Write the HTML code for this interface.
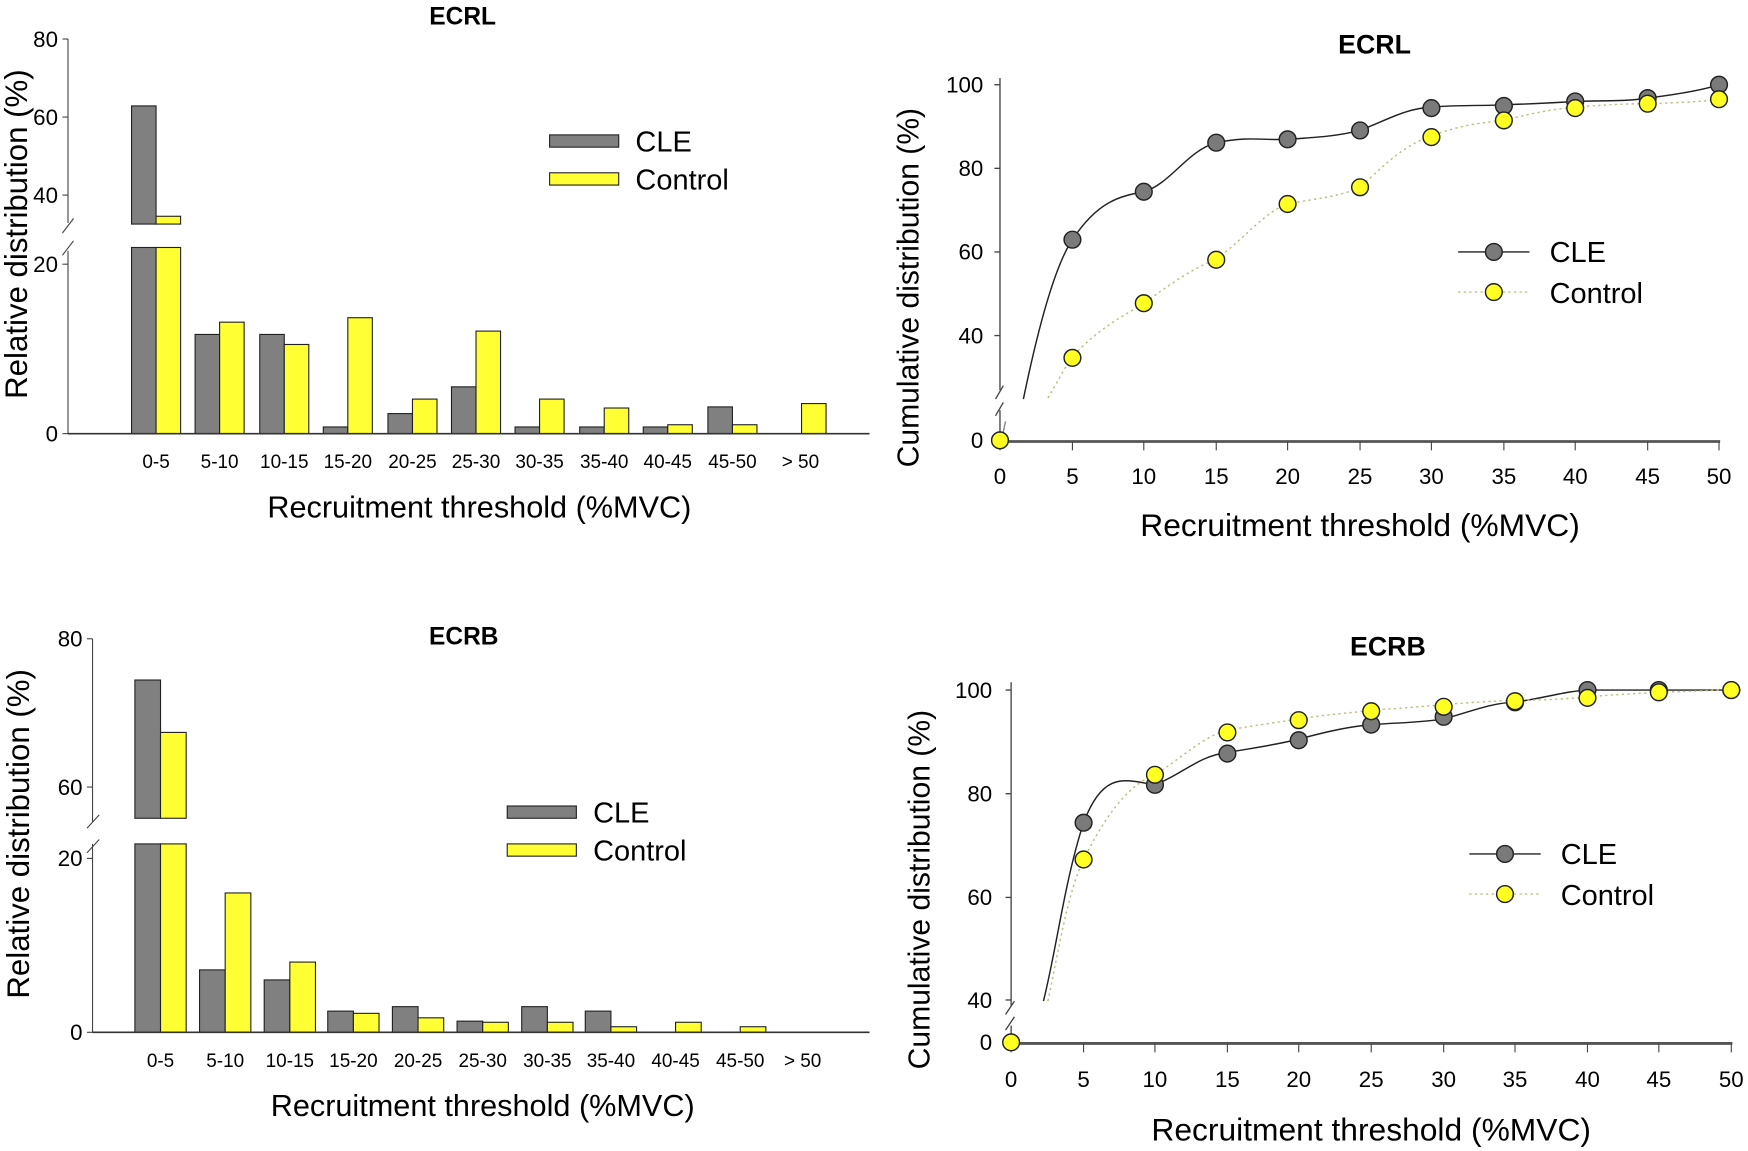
<!DOCTYPE html>
<html><head><meta charset="utf-8"><style>
body{margin:0;background:#fff}
svg{display:block;font-family:"Liberation Sans",Arial,sans-serif}
</style></head><body>
<svg width="1748" height="1151" viewBox="0 0 1748 1151" xmlns="http://www.w3.org/2000/svg">
<g transform="scale(1.11480)">
<!-- ===== Top-left ===== -->
<g stroke="#000" stroke-width="1">
<text x="415" y="22" font-size="22" font-weight="bold" text-anchor="middle" stroke="none">ECRL</text>
<line x1="61" y1="35" x2="61" y2="200" stroke="#444"/>
<line x1="61" y1="225" x2="61" y2="389" stroke="#444"/>
<line x1="56" y1="209" x2="66" y2="196" stroke="#444"/>
<line x1="56" y1="229" x2="66" y2="216" stroke="#444"/>
<g stroke="#444"><line x1="56" y1="35" x2="61" y2="35"/><line x1="56" y1="105" x2="61" y2="105"/><line x1="56" y1="175" x2="61" y2="175"/><line x1="56" y1="237" x2="61" y2="237"/><line x1="56" y1="389" x2="61" y2="389"/></g>
<g font-size="20" text-anchor="end" stroke="none"><text x="52" y="42">80</text><text x="52" y="112">60</text><text x="52" y="182">40</text><text x="52" y="244">20</text><text x="52" y="396">0</text></g>
<g stroke="#222">
<rect x="118" y="95" width="22" height="106" fill="#808080"/><rect x="118" y="222" width="22" height="167" fill="#808080"/>
<rect x="140" y="194" width="22" height="7" fill="#ffff33"/><rect x="140" y="222" width="22" height="167" fill="#ffff33"/>
<rect x="175" y="300" width="22" height="89" fill="#808080"/><rect x="197" y="289" width="22" height="100" fill="#ffff33"/>
<rect x="233" y="300" width="22" height="89" fill="#808080"/><rect x="255" y="309" width="22" height="80" fill="#ffff33"/>
<rect x="290" y="383" width="22" height="6" fill="#808080"/><rect x="312" y="285" width="22" height="104" fill="#ffff33"/>
<rect x="348" y="371" width="22" height="18" fill="#808080"/><rect x="370" y="358" width="22" height="31" fill="#ffff33"/>
<rect x="405" y="347" width="22" height="42" fill="#808080"/><rect x="427" y="297" width="22" height="92" fill="#ffff33"/>
<rect x="462" y="383" width="22" height="6" fill="#808080"/><rect x="484" y="358" width="22" height="31" fill="#ffff33"/>
<rect x="520" y="383" width="22" height="6" fill="#808080"/><rect x="542" y="366" width="22" height="23" fill="#ffff33"/>
<rect x="577" y="383" width="22" height="6" fill="#808080"/><rect x="599" y="381" width="22" height="8" fill="#ffff33"/>
<rect x="635" y="365" width="22" height="24" fill="#808080"/><rect x="657" y="381" width="22" height="8" fill="#ffff33"/>
<rect x="719" y="362" width="22" height="27" fill="#ffff33"/>
</g>
<line x1="61" y1="389" x2="780" y2="389" stroke="#333" stroke-width="1.5"/>
<g font-size="17" text-anchor="middle" stroke="none"><text x="140" y="420">0-5</text><text x="197" y="420">5-10</text><text x="255" y="420">10-15</text><text x="312" y="420">15-20</text><text x="370" y="420">20-25</text><text x="427" y="420">25-30</text><text x="484" y="420">30-35</text><text x="542" y="420">35-40</text><text x="599" y="420">40-45</text><text x="657" y="420">45-50</text><text x="718" y="420">&gt; 50</text></g>
<text x="430" y="464" font-size="27.5" text-anchor="middle" stroke="none">Recruitment threshold (%MVC)</text>
<text transform="translate(24,210) rotate(-90)" font-size="28" text-anchor="middle" stroke="none">Relative distribution (%)</text>
<rect x="493" y="121" width="62" height="11" fill="#808080" stroke="#222"/>
<rect x="493" y="155" width="62" height="11" fill="#ffff33" stroke="#222"/>
<g font-size="26" stroke="none"><text x="570" y="136">CLE</text><text x="570" y="170">Control</text></g>
</g>

<!-- ===== Top-right ===== -->
<g>
<text x="1233" y="48" font-size="24" font-weight="bold" text-anchor="middle">ECRL</text>
<g stroke="#444" stroke-width="1.2">
<line x1="897" y1="70" x2="897" y2="350"/><line x1="897" y1="368" x2="897" y2="395"/>
<line x1="893" y1="358" x2="900" y2="346"/><line x1="893" y1="373" x2="900" y2="361"/>
<line x1="892" y1="76" x2="897" y2="76"/><line x1="892" y1="151" x2="897" y2="151"/><line x1="892" y1="226" x2="897" y2="226"/><line x1="892" y1="301" x2="897" y2="301"/><line x1="892" y1="395" x2="897" y2="395"/>
</g>
<line x1="897" y1="396" x2="1543" y2="396" stroke="#555" stroke-width="2.5"/>
<g stroke="#444"><line x1="897" y1="396" x2="897" y2="404"/><line x1="962" y1="396" x2="962" y2="404"/><line x1="1026" y1="396" x2="1026" y2="404"/><line x1="1091" y1="396" x2="1091" y2="404"/><line x1="1155" y1="396" x2="1155" y2="404"/><line x1="1220" y1="396" x2="1220" y2="404"/><line x1="1284" y1="396" x2="1284" y2="404"/><line x1="1349" y1="396" x2="1349" y2="404"/><line x1="1413" y1="396" x2="1413" y2="404"/><line x1="1478" y1="396" x2="1478" y2="404"/><line x1="1542" y1="396" x2="1542" y2="404"/></g>
<g font-size="20" text-anchor="end"><text x="882" y="83">100</text><text x="882" y="158">80</text><text x="882" y="233">60</text><text x="882" y="308">40</text><text x="882" y="402">0</text></g>
<g font-size="20" text-anchor="middle"><text x="897" y="434">0</text><text x="962" y="434">5</text><text x="1026" y="434">10</text><text x="1091" y="434">15</text><text x="1155" y="434">20</text><text x="1220" y="434">25</text><text x="1284" y="434">30</text><text x="1349" y="434">35</text><text x="1413" y="434">40</text><text x="1478" y="434">45</text><text x="1542" y="434">50</text></g>
<text x="1220" y="481" font-size="28.5" text-anchor="middle">Recruitment threshold (%MVC)</text>
<text transform="translate(824,258) rotate(-90)" font-size="27" text-anchor="middle">Cumulative distribution (%)</text>
<path d="M918,358 C930,300 945,240 962,215 C985,180 1005,176 1026,172 C1050,165 1065,135 1091,128 C1120,122 1130,126 1155,125 C1180,123 1195,123 1220,117 C1250,105 1260,98 1284,96 C1310,94 1330,95 1349,94 C1380,93 1395,92 1413,91 C1440,90 1460,91 1478,88 C1510,84 1530,80 1542,76" fill="none" stroke="#222" stroke-width="1.3"/>
<line x1="899" y1="392" x2="902" y2="378" stroke="#888" stroke-width="1.3"/>
<path d="M940,357 C950,340 955,330 962,320 C985,295 1005,285 1026,272 C1050,255 1070,240 1091,233 C1120,210 1135,190 1155,183 C1180,178 1200,177 1220,168 C1245,145 1260,130 1284,122 C1310,112 1330,110 1349,108 C1380,100 1395,98 1413,96 C1440,94 1460,93 1478,93 C1510,92 1530,91 1542,89" fill="none" stroke="#bdbd80" stroke-width="1.3" stroke-dasharray="2,3"/>
<g fill="#7a7a7a" stroke="#222" stroke-width="1.3">
<circle cx="962" cy="215" r="7.5"/><circle cx="1026" cy="172" r="7.5"/><circle cx="1091" cy="128" r="7.5"/><circle cx="1155" cy="125" r="7.5"/><circle cx="1220" cy="117" r="7.5"/><circle cx="1284" cy="97" r="7.5"/><circle cx="1349" cy="95" r="7.5"/><circle cx="1413" cy="91" r="7.5"/><circle cx="1478" cy="88" r="7.5"/><circle cx="1542" cy="76" r="7.5"/>
</g>
<g fill="#ffff22" stroke="#222" stroke-width="1.3">
<circle cx="897" cy="395" r="7.5"/><circle cx="962" cy="321" r="7.5"/><circle cx="1026" cy="272" r="7.5"/><circle cx="1091" cy="233" r="7.5"/><circle cx="1155" cy="183" r="7.5"/><circle cx="1220" cy="168" r="7.5"/><circle cx="1284" cy="123" r="7.5"/><circle cx="1349" cy="108" r="7.5"/><circle cx="1413" cy="97" r="7.5"/><circle cx="1478" cy="93" r="7.5"/><circle cx="1542" cy="89" r="7.5"/>
</g>
<line x1="1308" y1="226" x2="1372" y2="226" stroke="#222" stroke-width="1.3"/>
<circle cx="1340" cy="226" r="7.5" fill="#7a7a7a" stroke="#222" stroke-width="1.3"/>
<line x1="1308" y1="262" x2="1372" y2="262" stroke="#bdbd80" stroke-width="1.3" stroke-dasharray="2,3"/>
<circle cx="1340" cy="262" r="7.5" fill="#ffff22" stroke="#222" stroke-width="1.3"/>
<g font-size="26"><text x="1390" y="235">CLE</text><text x="1390" y="272">Control</text></g>
</g>

<!-- ===== Bottom-left ===== -->
<g>
<text x="416" y="578" font-size="22" font-weight="bold" text-anchor="middle">ECRB</text>
<g stroke="#444">
<line x1="83" y1="573" x2="83" y2="737"/><line x1="83" y1="757" x2="83" y2="926"/>
<line x1="78" y1="743" x2="89" y2="731"/><line x1="78" y1="765" x2="89" y2="753"/>
<line x1="78" y1="573" x2="83" y2="573"/><line x1="78" y1="706" x2="83" y2="706"/><line x1="78" y1="770" x2="83" y2="770"/><line x1="78" y1="926" x2="83" y2="926"/>
</g>
<g font-size="20" text-anchor="end"><text x="74" y="580">80</text><text x="74" y="713">60</text><text x="74" y="777">20</text><text x="74" y="933">0</text></g>
<g stroke="#222">
<rect x="121" y="610" width="23" height="124" fill="#808080"/><rect x="121" y="757" width="23" height="169" fill="#808080"/>
<rect x="144" y="657" width="23" height="77" fill="#ffff33"/><rect x="144" y="757" width="23" height="169" fill="#ffff33"/>
<rect x="179" y="870" width="23" height="56" fill="#808080"/><rect x="202" y="801" width="23" height="125" fill="#ffff33"/>
<rect x="237" y="879" width="23" height="47" fill="#808080"/><rect x="260" y="863" width="23" height="63" fill="#ffff33"/>
<rect x="294" y="907" width="23" height="19" fill="#808080"/><rect x="317" y="909" width="23" height="17" fill="#ffff33"/>
<rect x="352" y="903" width="23" height="23" fill="#808080"/><rect x="375" y="913" width="23" height="13" fill="#ffff33"/>
<rect x="410" y="916" width="23" height="10" fill="#808080"/><rect x="433" y="917" width="23" height="9" fill="#ffff33"/>
<rect x="468" y="903" width="23" height="23" fill="#808080"/><rect x="491" y="917" width="23" height="9" fill="#ffff33"/>
<rect x="525" y="907" width="23" height="19" fill="#808080"/><rect x="548" y="921" width="23" height="5" fill="#ffff33"/>
<rect x="606" y="917" width="23" height="9" fill="#ffff33"/>
<rect x="664" y="921" width="23" height="5" fill="#ffff33"/>
</g>
<line x1="83" y1="926" x2="780" y2="926" stroke="#333" stroke-width="1.5"/>
<g font-size="17" text-anchor="middle"><text x="144" y="957">0-5</text><text x="202" y="957">5-10</text><text x="260" y="957">10-15</text><text x="317" y="957">15-20</text><text x="375" y="957">20-25</text><text x="433" y="957">25-30</text><text x="491" y="957">30-35</text><text x="548" y="957">35-40</text><text x="606" y="957">40-45</text><text x="664" y="957">45-50</text><text x="720" y="957">&gt; 50</text></g>
<text x="433" y="1001" font-size="27.5" text-anchor="middle">Recruitment threshold (%MVC)</text>
<text transform="translate(26,748) rotate(-90)" font-size="28" text-anchor="middle">Relative distribution (%)</text>
<rect x="455" y="723" width="62" height="11" fill="#808080" stroke="#222"/>
<rect x="455" y="757" width="62" height="11" fill="#ffff33" stroke="#222"/>
<g font-size="26"><text x="532" y="738">CLE</text><text x="532" y="772">Control</text></g>
</g>

<!-- ===== Bottom-right ===== -->
<g>
<text x="1245" y="588" font-size="24" font-weight="bold" text-anchor="middle">ECRB</text>
<g stroke="#444" stroke-width="1.2">
<line x1="907" y1="612" x2="907" y2="902"/><line x1="907" y1="920" x2="907" y2="935"/>
<line x1="902" y1="910" x2="910" y2="898"/><line x1="902" y1="924" x2="910" y2="912"/>
<line x1="902" y1="619" x2="907" y2="619"/><line x1="902" y1="712" x2="907" y2="712"/><line x1="902" y1="805" x2="907" y2="805"/><line x1="902" y1="897" x2="907" y2="897"/><line x1="902" y1="935" x2="907" y2="935"/>
</g>
<line x1="907" y1="936" x2="1554" y2="936" stroke="#555" stroke-width="2.5"/>
<g stroke="#444"><line x1="907" y1="936" x2="907" y2="944"/><line x1="972" y1="936" x2="972" y2="944"/><line x1="1036" y1="936" x2="1036" y2="944"/><line x1="1101" y1="936" x2="1101" y2="944"/><line x1="1165" y1="936" x2="1165" y2="944"/><line x1="1230" y1="936" x2="1230" y2="944"/><line x1="1295" y1="936" x2="1295" y2="944"/><line x1="1359" y1="936" x2="1359" y2="944"/><line x1="1424" y1="936" x2="1424" y2="944"/><line x1="1488" y1="936" x2="1488" y2="944"/><line x1="1553" y1="936" x2="1553" y2="944"/></g>
<g font-size="20" text-anchor="end"><text x="890" y="626">100</text><text x="890" y="719">80</text><text x="890" y="812">60</text><text x="890" y="904">40</text><text x="890" y="942">0</text></g>
<g font-size="20" text-anchor="middle"><text x="907" y="975">0</text><text x="972" y="975">5</text><text x="1036" y="975">10</text><text x="1101" y="975">15</text><text x="1165" y="975">20</text><text x="1230" y="975">25</text><text x="1295" y="975">30</text><text x="1359" y="975">35</text><text x="1424" y="975">40</text><text x="1488" y="975">45</text><text x="1553" y="975">50</text></g>
<text x="1230" y="1023" font-size="28.5" text-anchor="middle">Recruitment threshold (%MVC)</text>
<text transform="translate(834,798) rotate(-90)" font-size="27" text-anchor="middle">Cumulative distribution (%)</text>
<path d="M936,898 C948,850 955,790 972,738 C990,690 1010,700 1036,704 C1060,695 1075,678 1101,675 C1130,670 1145,668 1165,663 C1195,655 1210,652 1230,650 C1260,648 1275,648 1295,645 C1320,638 1340,630 1359,630 C1390,625 1405,620 1424,619 C1450,619 1470,619 1488,619 C1520,619 1540,619 1553,619" fill="none" stroke="#222" stroke-width="1.3"/>
<path d="M940,898 C950,850 958,800 972,771 C990,735 1010,705 1036,695 C1060,680 1080,660 1101,655 C1130,650 1145,648 1165,645 C1195,640 1210,640 1230,637 C1260,635 1275,634 1295,632 C1320,630 1340,629 1359,628 C1390,628 1405,627 1424,625 C1450,623 1470,622 1488,621 C1520,620 1540,619 1553,619" fill="none" stroke="#bdbd80" stroke-width="1.3" stroke-dasharray="2,3"/>
<g fill="#7a7a7a" stroke="#222" stroke-width="1.3">
<circle cx="972" cy="738" r="7.5"/><circle cx="1036" cy="704" r="7.5"/><circle cx="1101" cy="676" r="7.5"/><circle cx="1165" cy="664" r="7.5"/><circle cx="1230" cy="650" r="7.5"/><circle cx="1295" cy="643" r="7.5"/><circle cx="1359" cy="630" r="7.5"/><circle cx="1424" cy="619" r="7.5"/><circle cx="1488" cy="619" r="7.5"/><circle cx="1553" cy="619" r="7.5"/>
</g>
<g fill="#ffff22" stroke="#222" stroke-width="1.3">
<circle cx="907" cy="935" r="7.5"/><circle cx="972" cy="771" r="7.5"/><circle cx="1036" cy="695" r="7.5"/><circle cx="1101" cy="657" r="7.5"/><circle cx="1165" cy="646" r="7.5"/><circle cx="1230" cy="638" r="7.5"/><circle cx="1295" cy="634" r="7.5"/><circle cx="1359" cy="629" r="7.5"/><circle cx="1424" cy="626" r="7.5"/><circle cx="1488" cy="621" r="7.5"/><circle cx="1553" cy="619" r="7.5"/>
</g>
<line x1="1318" y1="766" x2="1382" y2="766" stroke="#222" stroke-width="1.3"/>
<circle cx="1350" cy="766" r="7.5" fill="#7a7a7a" stroke="#222" stroke-width="1.3"/>
<line x1="1318" y1="802" x2="1382" y2="802" stroke="#bdbd80" stroke-width="1.3" stroke-dasharray="2,3"/>
<circle cx="1350" cy="802" r="7.5" fill="#ffff22" stroke="#222" stroke-width="1.3"/>
<g font-size="26"><text x="1400" y="775">CLE</text><text x="1400" y="812">Control</text></g>
</g>
</g>
</svg>
</body></html>
